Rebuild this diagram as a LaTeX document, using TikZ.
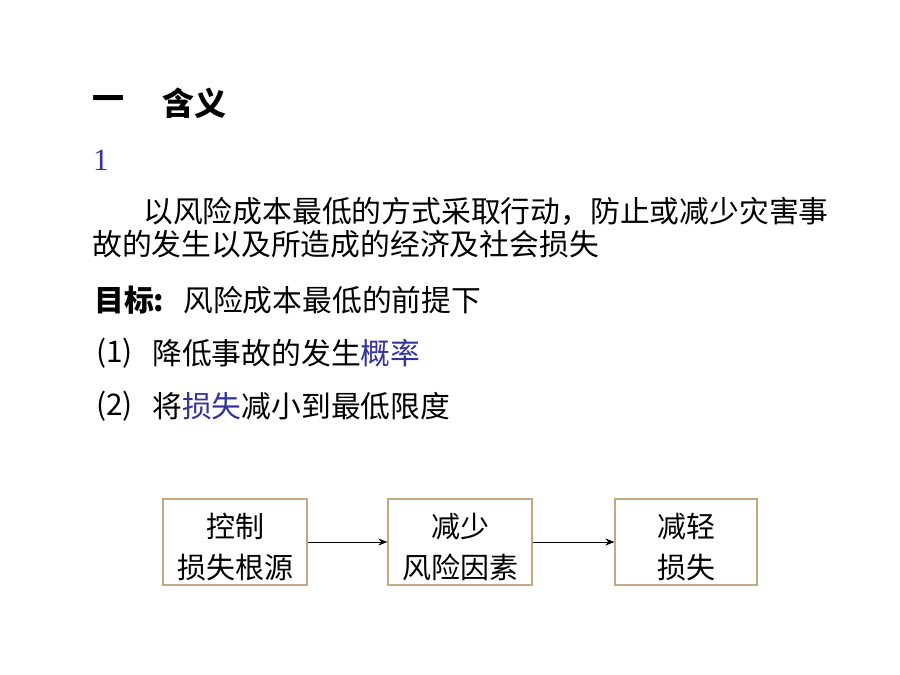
\documentclass[tikz,border=0pt]{standalone}
\usepackage{fontspec}
\setmainfont{Noto Sans CJK SC}
\newfontfamily\serifnum{Liberation Serif}
\usetikzlibrary{arrows.meta}
\definecolor{kblue}{RGB}{51,51,153}
\definecolor{boxline}{RGB}{196,168,130}
\tikzset{
  txt/.style={anchor=west,inner sep=0pt,font=\fontsize{29.8}{34}\selectfont},
  ttl/.style={anchor=west,inner sep=0pt,font=\fontsize{32}{38}\selectfont\bfseries},
  flowbox/.style={draw=boxline,line width=1.2pt,minimum width=144pt,minimum height=86pt,inner sep=0pt,align=center,text height=77pt,text depth=3.5pt,font=\fontsize{29}{41}\selectfont},
  flowarrow/.style={-{Stealth[length=9pt,width=7pt]},line width=0.8pt,black}
}
\begin{document}
\begin{tikzpicture}[x=1pt,y=-1pt]
\path[fill=white] (0,0) rectangle (900,675);
\node[ttl] (t1) at (92,103) {一};
\node[ttl] (t2) at (162,103) {含义};
\node[anchor=west,inner sep=0pt,font=\fontsize{31}{34}\selectfont\serifnum,text=kblue] (n1) at (93,160) {1};
\node[txt] (p1) at (143,211) {以风险成本最低的方式采取行动，防止或减少灾害事};
\node[txt] (p2) at (92,244) {故的发生以及所造成的经济及社会损失};
\node[txt] (g0) at (94,300) {\textbf{目标:}};
\node[txt] (g1) at (183,300) {风险成本最低的前提下};
\node[txt] (l1a) at (96,353) {(1)};
\node[txt] (l1b) at (152,353) {降低事故的发生\textcolor{kblue}{概率}};
\node[txt] (l2a) at (96,406) {(2)};
\node[txt] (l2b) at (152,406) {将\textcolor{kblue}{损失}减小到最低限度};
\node[flowbox] (b1) at (235,542) {控制\\损失根源};
\node[flowbox] (b2) at (460,542) {减少\\风险因素};
\node[flowbox,minimum width=142pt] (b3) at (686,542) {减轻\\损失};
\draw[flowarrow] (b1) -- (b2);
\draw[flowarrow] (b2) -- (b3);
\end{tikzpicture}
\end{document}
